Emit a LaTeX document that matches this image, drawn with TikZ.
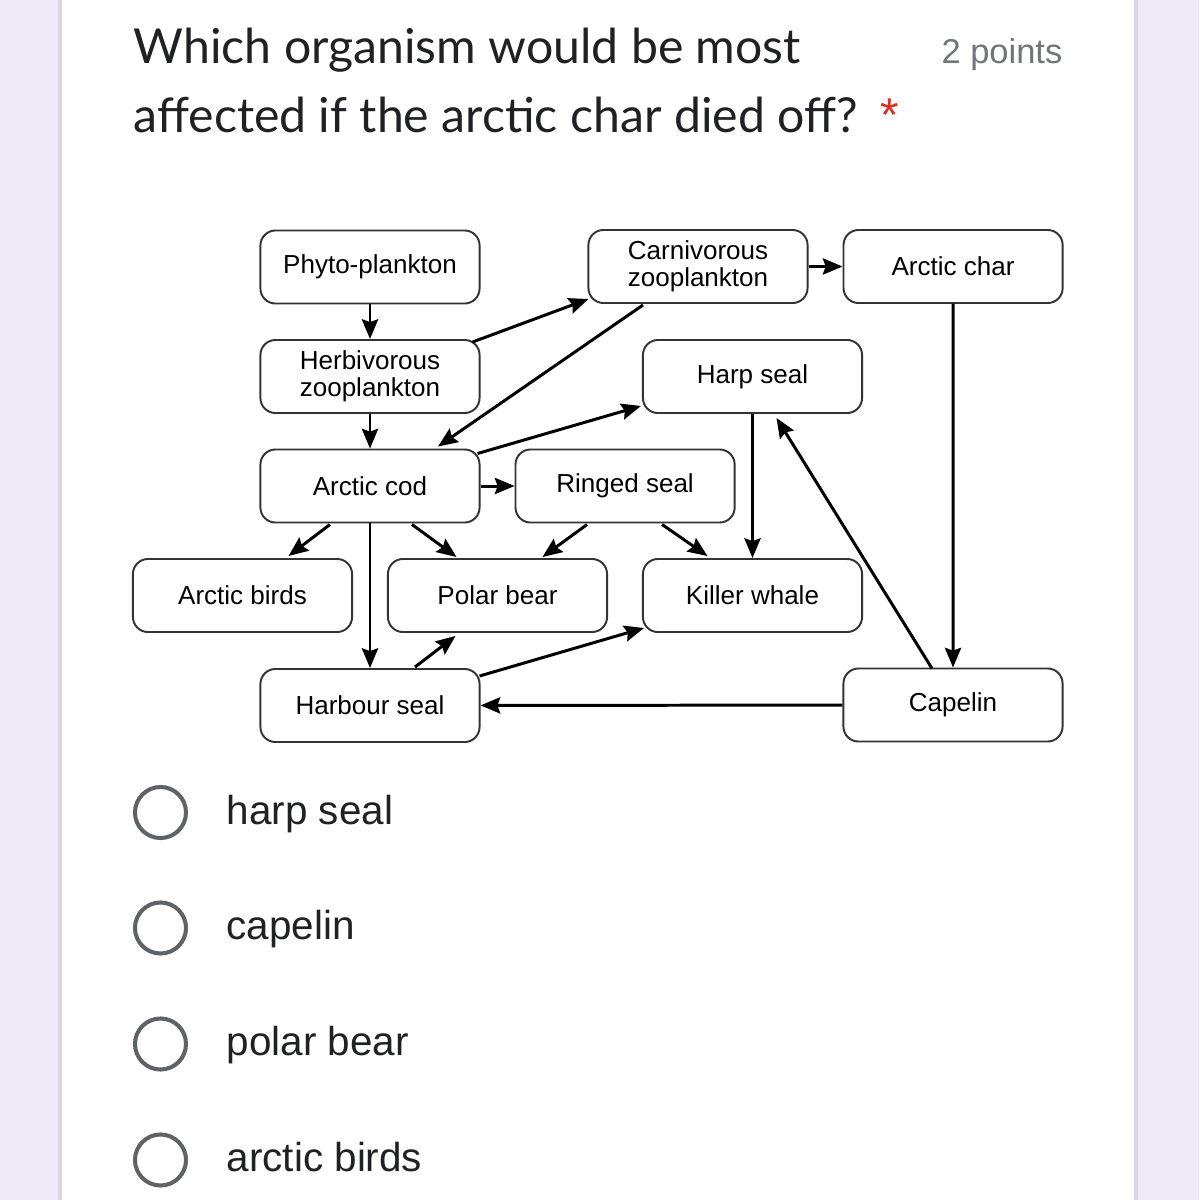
\documentclass[tikz,border=0pt]{standalone}
\usepackage{fontspec}
\setmainfont{Liberation Sans}
\newfontfamily\titlefont{Lato}
\usepackage{tikz}
\usetikzlibrary{positioning, arrows.meta, calc}

\definecolor{pagebg}{RGB}{238,234,247}
\definecolor{cardline}{RGB}{218,214,228}
\definecolor{textdark}{RGB}{32,33,36}
\definecolor{textgrey}{RGB}{112,117,122}
\definecolor{radiogrey}{RGB}{95,99,104}
\definecolor{starred}{RGB}{217,48,37}

\begin{document}
\begin{tikzpicture}[x=0.01cm, y=-0.01cm,
    block/.style={rectangle, draw=black!80, line width=0.55pt, rounded corners=0.15cm,
                  minimum width=2.19cm, minimum height=0.73cm, align=center, inner sep=1pt,
                  font=\fontsize{7.4}{7.8}\selectfont},
    arrow/.style={-{Stealth[length=5.6pt, width=4.6pt, inset=0.8pt]}, line width=0.85pt},
    radio/.style={circle, draw=radiogrey, line width=1.15pt, minimum size=0.51cm, inner sep=0pt},
    option/.style={anchor=base west, inner sep=0pt, text=textdark, font=\fontsize{11.5}{13}\selectfont},
    question/.style={anchor=base west, inner sep=0pt, text=textdark, font=\titlefont\fontsize{13.7}{16}\selectfont}
]

    % Page and card
    \useasboundingbox (0,0) rectangle (1199,1200);
    \fill[pagebg] (0,0) rectangle (1199,1200);
    \fill[white] (60,0) rectangle (1136,1200);
    \draw[cardline, line width=0.9pt] (60,0) -- (60,1200);
    \draw[cardline, line width=0.9pt] (1136,0) -- (1136,1200);

    % Question
    \node[question] (qline1) at (133,63) {Which organism would be most};
    \node[question] (qline2) at (133,132) {affected if the arctic char died off?};
    \node[anchor=base west, inner sep=0pt, text=starred, font=\fontsize{13.5}{16}\selectfont] (star) at (880,131) {*};
    \node[anchor=base east, inner sep=0pt, text=textgrey, font=\fontsize{9.8}{12}\selectfont] (points) at (1063,63) {2 points};

    % Food web boxes
    \node[block] (phyto) at (370,267) {Phyto-plankton};
    \node[block] (carn) at (698,266.5) {Carnivorous\\zooplankton};
    \node[block, right=0.34cm of carn] (char) {Arctic char};
    \node[block] (herb) at (370,376.5) {Herbivorous\\zooplankton};
    \node[block] (harp) at (752.5,376.5) {Harp seal};
    \node[block] (cod) at (370,486) {Arctic cod};
    \node[block, right=0.34cm of cod] (ringed) {Ringed seal};
    \node[block] (birds) at (242.5,595.5) {Arctic birds};
    \node[block] (polar) at (497.5,595.5) {Polar bear};
    \node[block] (killer) at (752.5,595.5) {Killer whale};
    \node[block] (harbour) at (370,705.5) {Harbour seal};
    \node[block] (capelin) at (953,705) {Capelin};

    % Straight links
    \draw[arrow] (phyto) -- (herb);
    \draw[arrow] (herb) -- (cod);
    \draw[arrow] (carn) -- (char);
    \draw[arrow] (cod) -- (ringed);
    \draw[arrow] (cod) -- (harbour);
    \draw[arrow] (harp) -- (killer);
    \draw[arrow] (char) -- (capelin);
    \draw[arrow] (capelin) -- (harbour);

    % Slanted links
    \draw[arrow] ($(herb.north east)+(-8,3)$) -- ($(carn.south west)+(1,-5)$);
    \draw[arrow] ($(carn.south)+(-55,1)$) -- ($(cod.north)+(68,-2)$);
    \draw[arrow] ($(cod.north east)+(-3,5)$) -- ($(harp.south west)+(-1,-8)$);
    \draw[arrow] ($(cod.south)+(-40,1)$) -- ($(birds.north)+(46,-2)$);
    \draw[arrow] ($(cod.south)+(42,1)$) -- ($(polar.north)+(-41,-1)$);
    \draw[arrow] ($(ringed.south)+(-38,1)$) -- ($(polar.north)+(45,-1)$);
    \draw[arrow] ($(ringed.south)+(37,1)$) -- ($(killer.north)+(-45,-2)$);
    \draw[arrow] ($(capelin.north)+(-21,1)$) -- ($(harp.south)+(24,4)$);
    \draw[arrow] ($(harbour.north)+(45,-1)$) -- ($(polar.south)+(-42,3)$);
    \draw[arrow] ($(harbour.north east)+(-1,8)$) -- ($(killer.south west)+(2,-5)$);

    % Answer options
    \foreach \ypos/\txt [count=\i] in {812.5/harp seal, 928/capelin, 1044/polar bear, 1160/arctic birds} {
        \node[radio] (radio\i) at (160.5,\ypos) {};
        \node[option] (opt\i) at (226,{\ypos+11.5}) {\txt};
    }

\end{tikzpicture}
\end{document}
